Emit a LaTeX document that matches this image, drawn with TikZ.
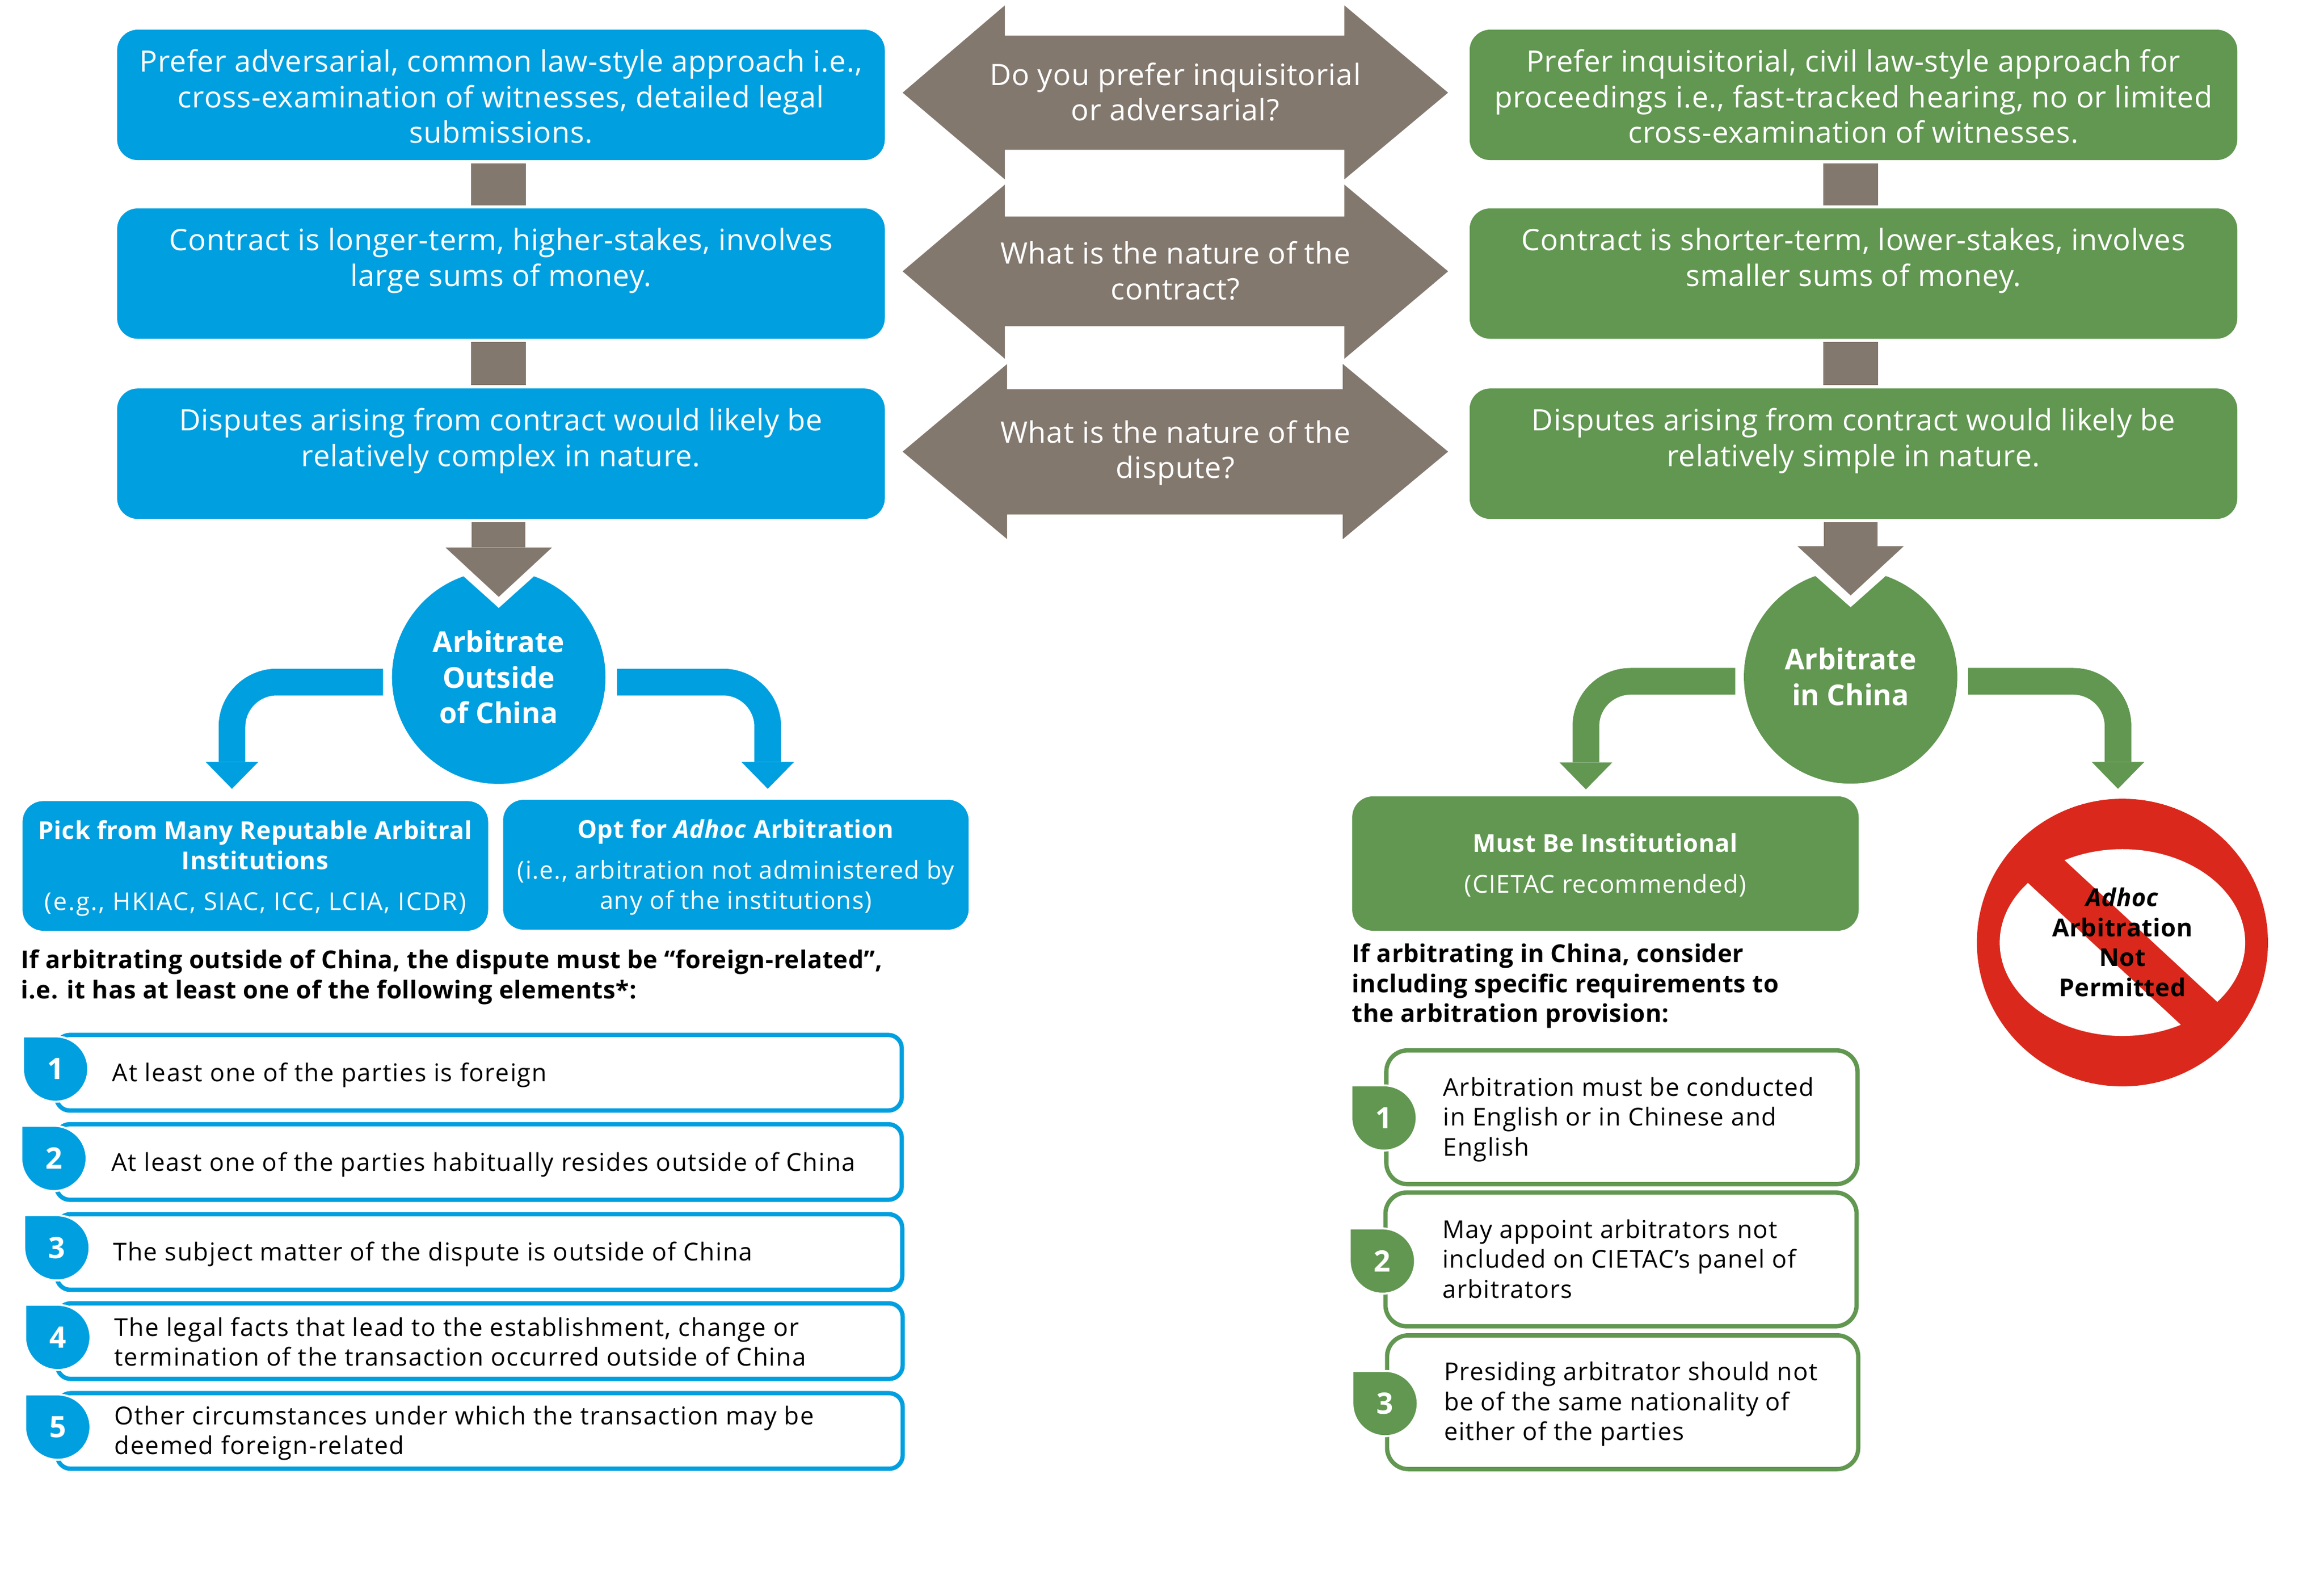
\documentclass[tikz,border=0pt]{standalone}
\usepackage{fontspec}
\setmainfont{Open Sans}
\newfontfamily\bigface[LetterSpace=1.6, BoldFeatures={LetterSpace=0}]{Open Sans}
\newfontfamily\smallface[LetterSpace=3.2, BoldFeatures={LetterSpace=1.3}, BoldItalicFeatures={LetterSpace=1.3}]{Open Sans}
\newfontfamily\listface[LetterSpace=3.9]{Open Sans}
\usetikzlibrary{arrows.meta,calc}
\definecolor{lawblue}{HTML}{009FDF}
\definecolor{lawgreen}{HTML}{619751}
\definecolor{lawgrey}{HTML}{83786E}
\definecolor{lawred}{HTML}{DA291C}
\newcommand{\bigfont}{\bigface\fontsize{15}{18.07}\selectfont}
\newcommand{\smallfont}{\smallface\fontsize{12.5}{15.2}\selectfont}
\newcommand{\listfont}{\listface\fontsize{12.5}{15.2}\selectfont}
% teardrop with its number on top
\newcommand{\numdrop}[4]{
  \fill[#1, draw=white, line width=0.35mm] (#3)+(-22,-22) -- +(0,-22) arc[start angle=-90, end angle=180, radius=22] -- cycle;
  \node[dropnum] (#2) at (#3) {#4};
}

\begin{document}
\begin{tikzpicture}[x=0.2649mm, y=-0.2649mm]
  \tikzstyle{choice}=[rectangle, rounded corners=3.7mm, minimum width=137.2mm, minimum height=23.3mm, inner sep=0pt, text=white, font=\bigfont, align=center, text height=53pt, text depth=4pt]
  \tikzstyle{choiceblue}=[choice, fill=lawblue]
  \tikzstyle{choicegreen}=[choice, fill=lawgreen]
  \tikzstyle{question}=[inner sep=0pt, text=white, font=\bigfont, align=center]
  \tikzstyle{verdict}=[circle, minimum size=38.15mm, inner sep=0pt, text=white, font=\bigface\fontsize{14.6}{18.07}\selectfont\bfseries, align=center]
  \tikzstyle{option}=[rectangle, rounded corners=3.7mm, inner sep=0pt, text=white, font=\smallfont, align=center, text depth=0.5pt]
  \tikzstyle{intro}=[anchor=west, inner sep=0pt, font=\smallfont\bfseries, align=left]
  \tikzstyle{item}=[rectangle, rounded corners=2.4mm, line width=0.77mm, fill=white, inner sep=0pt]
  \tikzstyle{itemblue}=[item, draw=lawblue, minimum width=151.1mm, minimum height=13.5mm]
  \tikzstyle{itemgreen}=[item, rounded corners=3.8mm, draw=lawgreen, minimum width=84.2mm, minimum height=23.9mm]
  \tikzstyle{itemtext}=[anchor=west, inner sep=0pt, font=\smallfont, align=left]
  \tikzstyle{bluetext}=[itemtext, font=\listfont]
  \tikzstyle{dropnum}=[inner sep=0pt, text=white, font=\bigfont\bfseries]
  \tikzstyle{boxlink}=[line width=9.8mm, lawgrey, shorten >=0.5mm, shorten <=0.5mm]
  \tikzstyle{fatdown}=[line width=9.6mm, lawgrey, shorten <=0.5mm, -{Triangle[length=8.8mm, width=19mm, line width=0pt]}]
  \tikzstyle{branch}=[line width=4.77mm, rounded corners=8mm, -{Triangle[length=4.8mm, width=9.4mm, line width=0pt]}]

  \useasboundingbox (0,0) rectangle (1568,1059.5);

  % Lados
  \node[choiceblue] (lb1) at (338,64) {Prefer adversarial, common law-style approach i.e.,\\cross-examination of witnesses, detailed legal\\submissions.};
  \node[choiceblue] (lb2) at (338,184.5) {Contract is longer-term, higher-stakes, involves\\large sums of money.\\\mbox{}};
  \node[choiceblue] (lb3) at (338,306) {Disputes arising from contract would likely be\\relatively complex in nature.\\\mbox{}};
  \node[choicegreen] (rb1) at (1250.5,64) {Prefer inquisitorial, civil law-style approach for\\proceedings i.e., fast-tracked hearing, no or limited\\cross-examination of witnesses.};
  \node[choicegreen] (rb2) at (1250.5,184.5) {Contract is shorter-term, lower-stakes, involves\\smaller sums of money.\\\mbox{}};
  \node[choicegreen] (rb3) at (1250.5,306) {Disputes arising from contract would likely be\\relatively simple in nature.\\\mbox{}};
  \draw[boxlink] ([xshift=-0.4mm]lb1.south) -- ([xshift=-0.4mm]lb2.north);
  \draw[boxlink] ([xshift=-0.4mm]lb2.south) -- ([xshift=-0.4mm]lb3.north);
  \draw[boxlink] ([xshift=-0.5mm]rb1.south) -- ([xshift=-0.5mm]rb2.north);
  \draw[boxlink] ([xshift=-0.5mm]rb2.south) -- ([xshift=-0.5mm]rb3.north);

  % Preguntas
  \fill[lawgrey] (609,62.5) -- (678,3.6) -- (678,24) -- (907,24) -- (907,3.6) -- (977,62.5) -- (907,121) -- (907,101) -- (678,101) -- (678,121) -- cycle;
  \fill[lawgrey] (609,183) -- (678,124.5) -- (678,146) -- (907,146) -- (907,124.5) -- (977,183) -- (907,242) -- (907,220) -- (678,220) -- (678,242) -- cycle;
  \fill[lawgrey] (609,304.6) -- (679.5,245.5) -- (679.5,262.5) -- (906,262.5) -- (906,245.5) -- (977,304.6) -- (906,363.6) -- (906,347) -- (679.5,347) -- (679.5,363.6) -- cycle;
  \node[question] (q1) at (793,62) {Do you prefer inquisitorial\\or adversarial?};
  \node[question] (q2) at (793,182.5) {What is the nature of the\\contract?};
  \node[question] (q3) at (793,305.5) {What is the nature of the\\dispute?};

  % Circulos
  \node[verdict, fill=lawblue] (arbout) at (336.5,456.7) {Arbitrate\\Outside\\of China};
  \node[verdict, fill=lawgreen] (arbin) at (1248.6,456.5) {Arbitrate\\in China};
  \fill[white] (292,370) -- (381,370) -- (336.5,410) -- cycle;
  \fill[white] (1204,370) -- (1293,370) -- (1248.6,409.5) -- cycle;
  \draw[fatdown] (lb3.south -| arbout.north) -- ([yshift=-4.8mm]arbout.north);
  \draw[fatdown] (rb3.south -| arbin.north) -- ([yshift=-4.6mm]arbin.north);

  \coordinate (pickin) at (156.5,532);
  \coordinate (optin) at (518,532);
  \coordinate (mustin) at (1070,532.4);
  \coordinate (noin) at (1429,532);
  \draw[branch, lawblue] ($(arbout.west)+(-5.8,3.3)$) -| (pickin);
  \draw[branch, lawblue] ($(arbout.east)+(7.5,3.3)$) -| (optin);
  \draw[branch, lawgreen] ($(arbin.west)+(-5.6,3)$) -| (mustin);
  \draw[branch, lawgreen] ($(arbin.east)+(7,3)$) -| (noin);

  % Opciones
  \node[option, fill=lawblue, minimum width=83.2mm, minimum height=23.15mm] (pick) at (172.3,584) {\textbf{Pick from Many Reputable Arbitral}\\\textbf{Institutions}\\[2mm]\addfontfeature{LetterSpace=5.4}(e.g., HKIAC, SIAC, ICC, LCIA, ICDR)};
  \node[option, fill=lawblue, minimum width=83.2mm, minimum height=23.2mm] (opt) at (496.5,583.2) {\textbf{Opt for \textit{Adhoc} Arbitration}\\[2mm](i.e., arbitration not administered by\\any of the institutions)};
  \node[option, fill=lawgreen, minimum width=90.5mm, minimum height=24mm] (must) at (1083.2,582.4) {\textbf{Must Be Institutional}\\[2mm](CIETAC recommended)};

  % Prohibido
  \fill[lawred] (1432,635.7) ellipse [x radius=98.2, y radius=97];
  \fill[white] (1432,635.7) ellipse [x radius=82.8, y radius=63];
  \draw[lawred, line width=7.4mm] (1370,578) -- (1494,693);
  \node[inner sep=0pt, font=\smallfont\bfseries, align=center] (noadhoc) at (1432,635.5) {\textit{Adhoc}\\Arbitration\\Not\\Permitted};

  % Listas
  \node[intro] (bluehead) at (14,659) {If arbitrating outside of China, the dispute must be “foreign-related”,\\i.e. it has at least one of the following elements*:};
  \node[itemblue] (bi1) at (323.2,723.5) {};
  \node[itemblue] (bi2) at (323.2,783.7) {};
  \node[itemblue] (bi3) at (323.5,844.4) {};
  \node[itemblue] (bi4) at (323.8,904.5) {};
  \node[itemblue] (bi5) at (323.8,965.1) {};
  \numdrop{lawblue}{bn1}{37.5,721}{1}
  \numdrop{lawblue}{bn2}{36.4,781.3}{2}
  \numdrop{lawblue}{bn3}{38.4,841.6}{3}
  \numdrop{lawblue}{bn4}{39,902}{4}
  \numdrop{lawblue}{bn5}{39,962.5}{5}
  \node[bluetext] (bt1) at (75.5,725) {At least one of the parties is foreign};
  \node[bluetext] (bt2) at (75,785.5) {At least one of the parties habitually resides outside of China};
  \node[bluetext] (bt3) at (76,846) {The subject matter of the dispute is outside of China};
  \node[bluetext] (bt4) at (77,905) {The legal facts that lead to the establishment, change or\\termination of the transaction occurred outside of China};
  \node[bluetext] (bt5) at (77,966.5) {Other circumstances under which the transaction may be\\deemed foreign-related};

  \node[intro] (greenhead) at (912,665) {If arbitrating in China, consider\\including specific requirements to\\the arbitration provision:};
  \node[itemgreen] (gi1) at (1094.3,753.5) {};
  \node[itemgreen] (gi2) at (1093.7,849.4) {};
  \node[itemgreen] (gi3) at (1094.8,945.7) {};
  \numdrop{lawgreen}{gn1}{933.8,754}{1}
  \numdrop{lawgreen}{gn2}{932.7,850.5}{2}
  \numdrop{lawgreen}{gn3}{934.5,946.6}{3}
  \node[itemtext] (gt1) at (973.5,755) {Arbitration must be conducted\\in English or in Chinese and\\English};
  \node[itemtext] (gt2) at (973,849) {May appoint arbitrators not\\included on CIETAC’s panel of\\arbitrators};
  \node[itemtext] (gt3) at (974,947) {Presiding arbitrator should not\\be of the same nationality of\\either of the parties};
\end{tikzpicture}
\end{document}
